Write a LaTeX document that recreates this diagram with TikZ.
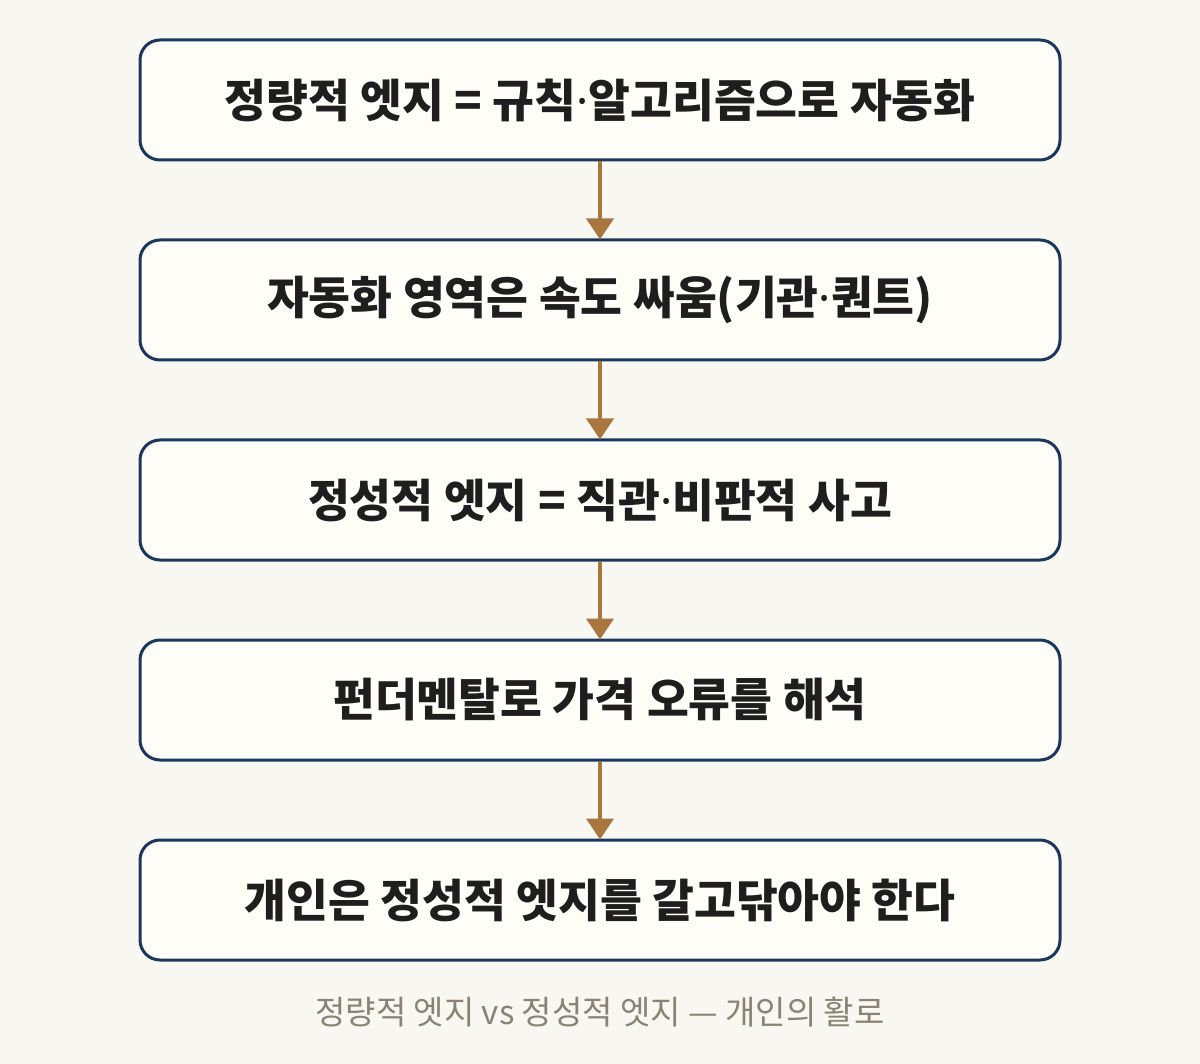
\documentclass[tikz,border=0pt]{standalone}
\usepackage{fontspec}
\newfontfamily\kr{Noto Sans CJK KR}
\newfontfamily\latdot{Noto Sans}
\newcommand{\mdot}{{\latdot\bfseries ·}}
\usetikzlibrary{arrows.meta,positioning}
\definecolor{bgc}{HTML}{F9F7F1}
\definecolor{boxfill}{HTML}{FFFDF8}
\definecolor{boxline}{HTML}{1C375E}
\definecolor{arrowc}{HTML}{A8763E}
\definecolor{txt}{HTML}{1E1E1E}
\definecolor{capc}{HTML}{8A8275}
\begin{document}
\begin{tikzpicture}[x=1pt,y=-1pt,
  stepbox/.style={draw=boxline, line width=3pt, fill=boxfill, rounded corners=20pt,
    minimum width=920pt, minimum height=120pt, inner sep=0pt,
    font=\kr\bfseries\fontsize{45.5}{53}\selectfont, text=txt},
  flow/.style={draw=arrowc, line width=4pt, -{Triangle[width=27pt,length=21pt]}, shorten >=-1pt}]
\fill[bgc] (0,0) rectangle (1200,1064);
\useasboundingbox (0,0) rectangle (1200,1064);
\node[stepbox] (b1) at (600,100) {정량적 엣지 = 규칙\mdot 알고리즘으로 자동화};
\node[stepbox] (b2) at (600,300) {자동화 영역은 속도 싸움(기관\mdot 퀀트)};
\node[stepbox] (b3) at (600,500) {정성적 엣지 = 직관\mdot 비판적 사고};
\node[stepbox] (b4) at (600,700) {펀더멘탈로 가격 오류를 해석};
\node[stepbox] (b5) at (600,900) {개인은 정성적 엣지를 갈고닦아야 한다};
\draw[flow] (b1) -- (b2);
\draw[flow] (b2) -- (b3);
\draw[flow] (b3) -- (b4);
\draw[flow] (b4) -- (b5);
\node[font=\kr\fontsize{33}{40}\selectfont, text=capc] (cap) at (600,1012) {정량적 엣지 vs 정성적 엣지 — 개인의 활로};
\end{tikzpicture}
\end{document}
